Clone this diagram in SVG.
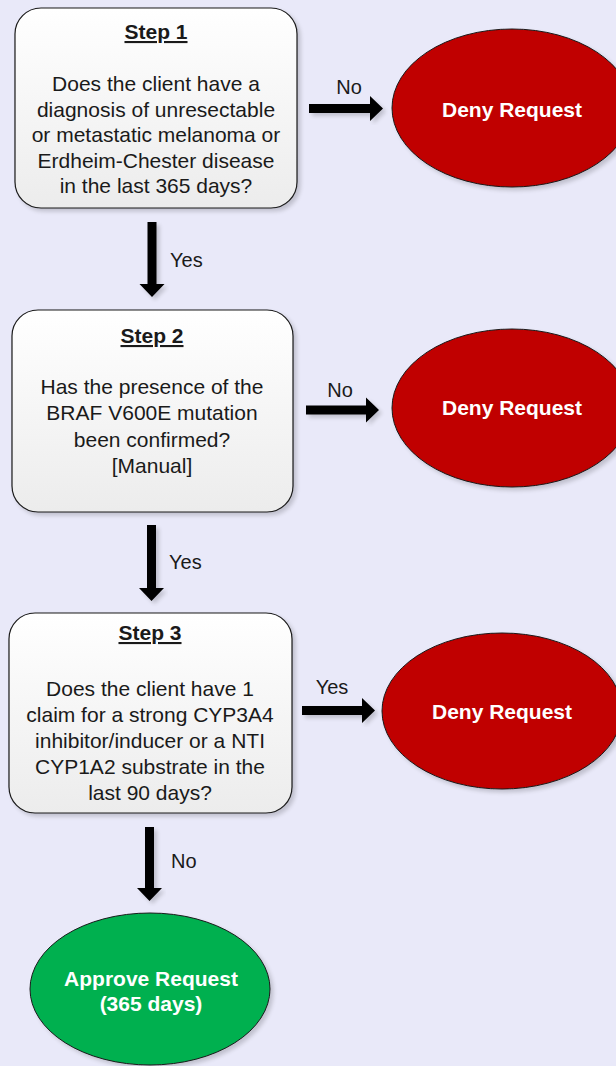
<svg xmlns="http://www.w3.org/2000/svg" width="616" height="1066" viewBox="0 0 616 1066">
<defs>
<linearGradient id="boxg" x1="0" y1="0" x2="0" y2="1">
<stop offset="0" stop-color="#ffffff"/>
<stop offset="1" stop-color="#ececec"/>
</linearGradient>
<filter id="sh" x="-10%" y="-10%" width="125%" height="125%">
<feGaussianBlur in="SourceAlpha" stdDeviation="2"/>
<feOffset dx="3" dy="3" result="b"/>
<feComponentTransfer><feFuncA type="linear" slope="0.18"/></feComponentTransfer>
<feMerge><feMergeNode/><feMergeNode in="SourceGraphic"/></feMerge>
</filter>
</defs>
<style>
.box{fill:url(#boxg);stroke:#1a1a1a;stroke-width:1.2}
.deny{fill:#c00000;stroke:#1a1a1a;stroke-width:1}
.ok{fill:#00b050;stroke:#1a1a1a;stroke-width:1}
.t{font-family:"Liberation Sans",Arial,sans-serif;font-size:21px;fill:#1a1a1a;text-anchor:middle}
.h{font-family:"Liberation Sans",Arial,sans-serif;font-size:21px;font-weight:bold;fill:#1a1a1a;text-anchor:middle;text-decoration:underline}
.w{font-family:"Liberation Sans",Arial,sans-serif;font-size:21px;font-weight:bold;fill:#ffffff;text-anchor:middle}
.l{font-family:"Liberation Sans",Arial,sans-serif;font-size:20px;fill:#1a1a1a}
.arr{fill:#000000}
</style>
<rect x="0" y="0" width="616" height="1066" fill="#e9e9f9"/>

<g id="step1">
<rect class="box" x="15" y="8" width="282" height="200" rx="26" filter="url(#sh)"/>
<text class="h" x="156" y="39">Step 1</text>
<text class="t" x="156" y="91">Does the client have a</text>
<text class="t" x="156" y="116.5">diagnosis of unresectable</text>
<text class="t" x="156" y="142">or metastatic melanoma or</text>
<text class="t" x="156" y="167.5">Erdheim-Chester disease</text>
<text class="t" x="156" y="193">in the last 365 days?</text>
</g>

<g id="deny1">
<ellipse class="deny" cx="512" cy="108" rx="120" ry="79" filter="url(#sh)"/>
<text class="w" x="512" y="117">Deny Request</text>
</g>

<g id="step2">
<rect class="box" x="12" y="310" width="281" height="202" rx="26" filter="url(#sh)"/>
<text class="h" x="152" y="343">Step 2</text>
<text class="t" x="152" y="394">Has the presence of the</text>
<text class="t" x="152" y="420">BRAF V600E mutation</text>
<text class="t" x="152" y="446.5">been confirmed?</text>
<text class="t" x="152" y="473">[Manual]</text>
</g>

<g id="deny2">
<ellipse class="deny" cx="512" cy="408" rx="120" ry="79" filter="url(#sh)"/>
<text class="w" x="512" y="415">Deny Request</text>
</g>

<g id="step3">
<rect class="box" x="9" y="613" width="283" height="200" rx="26" filter="url(#sh)"/>
<text class="h" x="150" y="640">Step 3</text>
<text class="t" x="150" y="696">Does the client have 1</text>
<text class="t" x="150" y="722">claim for a strong CYP3A4</text>
<text class="t" x="150" y="748">inhibitor/inducer or a NTI</text>
<text class="t" x="150" y="774">CYP1A2 substrate in the</text>
<text class="t" x="150" y="800">last 90 days?</text>
</g>

<g id="deny3">
<ellipse class="deny" cx="502" cy="711" rx="120" ry="78" filter="url(#sh)"/>
<text class="w" x="502" y="719">Deny Request</text>
</g>

<g id="approve">
<ellipse class="ok" cx="150" cy="989" rx="120" ry="76" filter="url(#sh)"/>
<text class="w" x="151" y="986">Approve Request</text>
<text class="w" x="151" y="1011">(365 days)</text>
</g>

<g id="connectors">
<polygon class="arr" filter="url(#sh)" points="309,104 370,104 370,96 383,108.5 370,121 370,113 309,113"/>
<text class="l" x="349" y="94" text-anchor="middle">No</text>
<polygon class="arr" filter="url(#sh)" points="147.5,222 156.5,222 156.5,284 164.5,284 152,297 139.5,284 147.5,284"/>
<text class="l" x="170" y="267">Yes</text>
<polygon class="arr" filter="url(#sh)" points="306,405.5 366,405.5 366,397.5 379,410 366,422.5 366,414.5 306,414.5"/>
<text class="l" x="340" y="397" text-anchor="middle">No</text>
<polygon class="arr" filter="url(#sh)" points="147,525 156,525 156,588 164,588 151.5,601 139,588 147,588"/>
<text class="l" x="169" y="569">Yes</text>
<polygon class="arr" filter="url(#sh)" points="302,706 362,706 362,698 375,710.5 362,723 362,715 302,715"/>
<text class="l" x="332" y="694" text-anchor="middle">Yes</text>
<polygon class="arr" filter="url(#sh)" points="145,827 154,827 154,888 162,888 149.5,901 137,888 145,888"/>
<text class="l" x="171" y="868">No</text>
</g>
</svg>
